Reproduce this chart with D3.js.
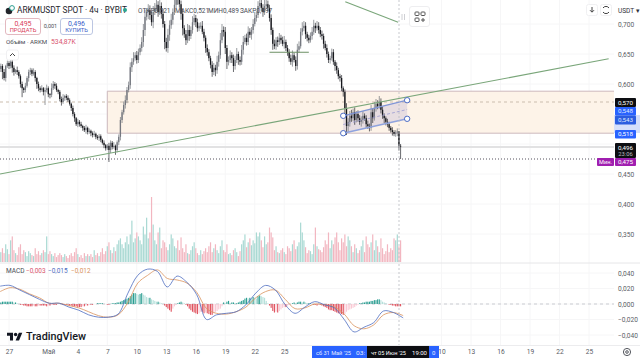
<!DOCTYPE html>
<html><head><meta charset="utf-8">
<script src="https://cdn.jsdelivr.net/npm/d3@7"></script>
<style>html,body{margin:0;padding:0;background:#fff}svg{display:block}text{font-family:Roboto,"Noto Sans",sans-serif}</style>
</head><body><svg id="c" width="640" height="360"></svg>
<script>
// ---- data ----
const closes=[.630,.620,.610,.630,.635,.630,.637,.627,.620,.623,.620,.613,.600,.593,.590,.597,.610,.620,.623,.617,.620,.610,.600,.593,.590,.593,.587,.590,.593,.583,.582,.593,.600,.597,.590,.587,.575,.570,.577,.580,.577,.573,.567,.560,.550,.543,.533,.537,.533,.530,.527,.523,.527,.520,.522,.518,.515,.517,.512,.510,.513,.507,.502,.498,.493,.497,.490,.502,.495,.497,.490,.503,.512,.540,.553,.565,.573,.590,.598,.628,.637,.643,.648,.640,.653,.660,.670,.690,.712,.720,.723,.715,.703,.720,.727,.732,.720,.730,.717,.700,.670,.660,.682,.698,.707,.720,.732,.743,.740,.733,.717,.693,.683,.673,.690,.680,.690,.703,.710,.703,.693,.697,.697,.687,.677,.660,.653,.643,.632,.620,.627,.623,.637,.648,.673,.690,.687,.660,.637,.640,.648,.643,.630,.640,.650,.640,.637,.657,.670,.677,.670,.687,.682,.690,.700,.710,.715,.730,.735,.727,.720,.730,.733,.727,.710,.690,.667,.663,.673,.670,.677,.673,.667,.670,.660,.653,.643,.637,.648,.640,.630,.657,.663,.687,.693,.697,.683,.677,.673,.680,.687,.697,.693,.697,.690,.683,.680,.667,.660,.650,.640,.643,.653,.637,.630,.623,.613,.610,.593,.587,.560,.530,.537,.547,.543,.553,.540,.550,.543,.537,.540,.547,.543,.533,.530,.527,.553,.543,.560,.567,.563,.570,.557,.547,.543,.537,.533,.527,.523,.520,.517,.519,.521,.497,.496];
const firstOpen=.625;
const wickUp=[4,3,5,2,4,3,5,3,4,2,6,3,3,4,2,5,3,4,4,3,6,3,2,4,3,5,2,4,6,3,2,8,5,3,4,2,3,4,6,2,3,4,3,2,4,3,2,5,3,4,2,3,5,2,4,2,3,5,2,3,4,3,2,4,2,3,5,4,3,6,2,3,4,5,4,6,8,5,6,8,6,10,5,7,6,6,8,10,12,6,10,8,6,10,8,12,6,10,6,8,5,7,10,8,10,6,12,15,8,10,6,8,5,7,10,8,6,10,7,5,6,5,6,8,5,4,6,5,4,6,8,5,10,6,12,10,6,8,5,6,8,5,6,7,10,4,6,8,10,5,7,9,6,5,8,10,6,8,10,8,6,12,10,6,5,6,4,7,5,6,8,5,6,10,4,5,5,6,8,4,6,10,8,6,10,8,6,4,5,6,8,10,5,8,6,5,6,4,5,6,4,4,6,5,3,6,4,4,5,3,4,8,6,8,10,6,8,5,6,5,6,8,4,5,6,4,12,6,10,8,6,10,6,5,4,3,5,4,3,5,3,4,5,0,3];
const wickDown=[5,12,4,6,3,5,4,8,6,3,5,4,6,15,5,4,3,6,5,4,3,6,8,5,4,3,6,22,4,5,6,4,3,5,3,4,4,6,3,5,4,3,3,5,4,6,3,5,4,3,5,3,6,4,3,5,4,3,4,3,5,4,3,5,4,3,20,5,4,3,8,4,5,6,5,4,6,5,4,6,8,5,4,6,5,5,6,8,10,6,12,8,6,10,5,6,8,5,8,6,12,6,8,10,6,8,5,6,8,6,10,12,6,8,5,8,5,6,5,8,6,5,5,4,6,8,6,5,6,8,5,10,6,8,6,5,8,10,12,6,5,8,10,6,5,8,6,5,8,4,6,5,5,8,6,4,6,5,4,6,8,5,4,6,6,8,10,5,6,8,5,6,4,8,5,6,6,5,8,4,8,6,5,4,6,5,8,6,5,4,6,5,8,4,6,5,6,8,4,6,5,6,4,5,8,6,5,6,5,8,10,15,10,8,6,5,8,4,6,5,8,6,4,6,5,6,5,8,4,6,5,4,6,5,8,6,5,5,4,6,4,5,6,8,21];
const volumes=[10,14,9,18,13,8,22,26,12,9,7,15,18,8,12,10,6,11,9,7,6,14,8,11,7,9,12,10,26,8,11,8,6,9,5,7,9,7,5,8,6,4,7,9,6,10,14,8,5,7,4,9,6,8,6,8,5,12,7,9,6,10,14,8,11,16,20,12,9,15,11,18,22,24,18,14,20,26,18,28,42,20,24,30,26,22,18,36,28,45,24,30,66,38,22,18,30,35,14,22,20,15,12,18,28,24,16,14,22,12,25,14,10,18,9,8,12,16,20,14,9,7,12,8,11,14,10,16,20,10,14,18,12,9,16,22,12,10,18,8,9,7,12,14,10,6,11,18,22,28,15,20,24,17,22,19,30,26,30,22,15,26,18,20,35,30,25,12,16,10,9,12,14,10,8,16,14,11,18,22,13,16,20,40,30,22,15,9,12,11,8,18,35,16,13,12,10,15,22,18,30,14,22,18,25,30,20,12,24,20,28,16,26,22,16,10,18,14,9,12,16,22,10,26,18,15,20,28,12,22,16,10,24,14,8,11,18,10,14,12,24,22,28,16,22];
const macdHist=[2,3,3,3,3,3,3,3,2,2,1,0,-1,-1,-2,-2,-3,-3,-3,-3,-2,-3,-3,-2,-2,-2,-2,-2,-3,-2,-2,-1,-1,-1,-1,0,0,0,-1,-1,-1,-1,-2,-2,-3,-3,-3,-4,-4,-4,-3,-3,-2,-2,-1,-1,-1,0,0,1,1,1,1,0,0,-1,-1,0,1,1,1,2,2,3,4,5,6,7,8,10,12,14,14,13,12,13,14,12,11,9,8,8,6,5,4,3,3,2,1,0,-2,-4,-6,-8,-10,-6,-3,-1,1,2,3,2,1,-1,-3,-6,-8,-10,-11,-12,-13,-12,-10,-10,-12,-11,-12,-13,-14,-14,-12,-10,-9,-7,-6,-3,2,1,3,4,1,2,2,1,1,2,3,4,5,7,8,7,8,7,9,8,7,10,11,10,9,8,4,1,-2,-5,-9,-11,-10,-11,-9,-7,-5,-4,-4,-2,-1,0,1,2,1,2,3,3,2,3,2,1,1,1,0,-1,-1,-2,-1,-1,-2,-3,-4,-5,-7,-8,-8,-9,-10,-11,-12,-12,-13,-14,-13,-10,-8,-7,-6,-5,-4,-2,-1,1,1,2,2,3,3,3,4,4,5,5,6,6,5,3,2,1,0,-1,-1,-2,-2,-3,-3,-3,-3];
const macdLine=[.023,.024,.018,.012,.006,.001,.001,-.004,-.008,-.014,-.017,-.017,-.013,.014,.037,.045,.042,.022,.036,.028,.012,-.020,-.014,-.012,-.010,-.001,.014,.024,.018,-.001,-.012,-.004,.003,-.001,-.005,-.020,-.036,-.030,-.024,-.009,-.011,-.018];
const signalLine=[.016,.021,.019,.013,.008,.001,.001,-.002,-.005,-.010,-.015,-.017,-.014,.002,.027,.037,.044,.033,.031,.027,.015,-.006,-.012,-.013,-.010,-.004,.008,.016,.018,.006,-.006,-.005,0,-.001,-.004,-.013,-.028,-.032,-.027,-.014,-.011,-.015];
const priceGrid=[.700,.650,.600,.550,.500,.450,.400,.350];
const priceTicks=[.700,.650,.600,.450,.400,.350];
const macdTicks=[.040,.020,0,-.020,-.040];
const timeDates=["2025-04-27","2025-05-01","2025-05-04","2025-05-07","2025-05-10","2025-05-13","2025-05-16","2025-05-19","2025-05-22","2025-05-25","2025-06-10","2025-06-13","2025-06-16","2025-06-19","2025-06-22","2025-06-25"];
const timeLabels=["27","Май","4","7","10","13","16","19","22","25","10","13","16","19","22","25"];
const trendMain=[{t:"2025-04-26T02:00Z",p:.450},{t:"2025-06-27T00:00Z",p:.642}];
const trendDown=[{t:"2025-05-31T05:00Z",p:.737},{t:"2025-06-05T14:00Z",p:.703}];
const levelGreen=[{t:"2025-05-23T12:00Z",p:.653},{t:"2025-05-27T12:00Z",p:.653}];
const channelTop=[{t:"2025-05-31T00:00Z",p:.547},{t:"2025-06-06T12:00Z",p:.573}];
const channelBot=[{t:"2025-05-31T00:00Z",p:.518},{t:"2025-06-06T12:00Z",p:.542}];
const priceBand=[.588,.518];
const bandStart="2025-05-07";
const lastPrice=.496, minPrice=.475, linePrice=.570;

// ---- scales ----
const svg=d3.select("#c");
const W=640,H=360,PR=614;
const T=s=>new Date(s.length<=10?s+"T00:00Z":s);
const x=d3.scaleUtc().domain([T("2025-04-27"),T("2025-06-25")]).range([9,589]);
const y=d3.scaleLinear().domain([.6,.45]).range([84,174]);
const yMacd=d3.scaleLinear().domain([0,.04]).range([304,273]);
const yVol=d3.scaleLinear().domain([0,66]).range([262,197]);
const fmt=d=>d3.format(".3f")(d).replace(".",",").replace("-","−");
const H4=4*3600*1000, t0=+T("2025-04-26T04:00Z");
const candles=closes.map((c,i)=>{const o=i?closes[i-1]:firstOpen;
 return {t:new Date(t0+i*H4),o,c,h:Math.max(o,c)+(wickUp[i]||0)/1000,l:Math.min(o,c)-(wickDown[i]||0)/1000,v:volumes[i]||0,m:(macdHist[i]||0)/1000};});
const UP="#74777f",DN="#16171c";

// ---- grid ----
const gridG=svg.append("g").attr("stroke","#f6f6f7").attr("stroke-width",1);
timeDates.forEach(d=>gridG.append("line").attr("x1",x(T(d))).attr("x2",x(T(d))).attr("y1",0).attr("y2",345));
priceGrid.forEach(p=>gridG.append("line").attr("x1",0).attr("x2",PR).attr("y1",y(p)).attr("y2",y(p)));
macdTicks.forEach(p=>gridG.append("line").attr("x1",0).attr("x2",PR).attr("y1",yMacd(p)).attr("y2",yMacd(p)));

// ---- drawings under the candles ----
const bx=x(T(bandStart));
svg.append("rect").attr("x",bx).attr("y",y(priceBand[0])).attr("width",PR-bx).attr("height",y(priceBand[1])-y(priceBand[0])).attr("fill","#fdf3e8");
priceBand.forEach(p=>svg.append("line").attr("x1",bx).attr("x2",PR).attr("y1",y(p)).attr("y2",y(p)).attr("stroke","#cdb9bd").attr("stroke-width",1));
svg.append("line").attr("x1",bx).attr("x2",bx).attr("y1",y(priceBand[0])).attr("y2",y(priceBand[1])).attr("stroke","#cdb9bd");
svg.append("line").attr("x1",0).attr("x2",PR).attr("y1",y(linePrice)).attr("y2",y(linePrice)).attr("stroke","#cbbdae").attr("stroke-dasharray","3 3");
svg.append("line").attr("x1",0).attr("x2",PR).attr("y1",y(lastPrice)+.5).attr("y2",y(lastPrice)+.5).attr("stroke","#e2e2e3").attr("stroke-width",2);
svg.append("line").attr("x1",0).attr("x2",PR).attr("y1",y(minPrice)).attr("y2",y(minPrice)).attr("stroke","#55505c").attr("stroke-dasharray","1 2");

// channel
const px=d=>[x(T(d.t)),y(d.p)];
const chan=[...channelTop.map(px),...channelBot.slice().reverse().map(px)];
svg.append("polygon").attr("points",chan.join(" ")).attr("fill","#7d6fc0").attr("fill-opacity",.17);

// ---- candles ----
const gC=svg.append("g");
gC.selectAll("line").data(candles).join("line").attr("x1",d=>x(d.t)).attr("x2",d=>x(d.t)).attr("y1",d=>y(d.h)).attr("y2",d=>y(d.l)).attr("stroke",d=>d.c>=d.o?"#6f7279":"#2a2b30").attr("stroke-width",.7);
gC.selectAll("rect").data(candles).join("rect").attr("x",d=>x(d.t)-.65).attr("width",1.3).attr("y",d=>y(Math.max(d.o,d.c))).attr("height",d=>Math.max(.8,Math.abs(y(d.o)-y(d.c)))).attr("fill",d=>d.c>=d.o?UP:DN);

// ---- lines over the candles ----
const ln=(a,c,w,da)=>svg.append("line").attr("x1",px(a[0])[0]).attr("y1",px(a[0])[1]).attr("x2",px(a[1])[0]).attr("y2",px(a[1])[1]).attr("stroke",c).attr("stroke-width",w).attr("stroke-dasharray",da||null);
ln(trendMain,"#7aa67a",1.1);ln(trendDown,"#7aa67a",1.1);ln(levelGreen,"#6b8f63",1.1);
ln(channelTop,"#7f95d6",1.2);ln(channelBot,"#8fa3de",1.6);
ln([{t:channelTop[0].t,p:(channelTop[0].p+channelBot[0].p)/2},{t:channelTop[1].t,p:(channelTop[1].p+channelBot[1].p)/2}],"#9b9bd0",.8,"3 2");
[...channelTop,...channelBot].forEach(d=>svg.append("circle").attr("cx",px(d)[0]).attr("cy",px(d)[1]).attr("r",2.7).attr("fill","#fff").attr("stroke","#4b6bc4").attr("stroke-width",1));

// ---- volume ----
svg.append("g").selectAll("rect").data(candles).join("rect").attr("x",d=>x(d.t)-.6).attr("width",1.2).attr("y",d=>yVol(d.v)).attr("height",d=>yVol(0)-yVol(d.v)).attr("fill",d=>d.c>=d.o?"#a9d9d3":"#f2b6c0");

// ---- pane separators ----
svg.append("line").attr("x1",0).attr("x2",W).attr("y1",263).attr("y2",263).attr("stroke","#e6e6e8");
svg.append("line").attr("x1",0).attr("x2",W).attr("y1",345.5).attr("y2",345.5).attr("stroke","#ececee");

// ---- MACD ----
svg.append("line").attr("x1",0).attr("x2",PR).attr("y1",yMacd(0)).attr("y2",yMacd(0)).attr("stroke","#c9cbd1").attr("stroke-dasharray","3 3");
svg.append("g").selectAll("rect").data(candles).join("rect").attr("x",d=>x(d.t)-.55).attr("width",1.1)
 .attr("y",d=>d.m>0?yMacd(d.m):yMacd(0)).attr("height",d=>Math.abs(yMacd(d.m)-yMacd(0)))
 .attr("fill",(d,i)=>{const p=i?candles[i-1].m:0;return d.m>=0?(d.m>=p?"#2b9e92":"#b5e0da"):(d.m<=p?"#e0535f":"#f9c9d4");});
const lineMacd=d3.line().x((d,i)=>x(new Date(t0+(i*6-.4)*H4))).y(d=>yMacd(d)).curve(d3.curveCatmullRom);
svg.append("path").attr("d",lineMacd(signalLine)).attr("fill","none").attr("stroke","#d9925c").attr("stroke-width",.8);
svg.append("path").attr("d",lineMacd(macdLine)).attr("fill","none").attr("stroke","#4d6cc0").attr("stroke-width",.8);

// crosshair
svg.append("line").attr("x1",399).attr("x2",399).attr("y1",0).attr("y2",345).attr("stroke","#b9bbc2").attr("stroke-dasharray","2 2").attr("stroke-width",.8);

// ---- axes ----
function styleAxis(g){g.select(".domain").remove();g.selectAll("line").remove();g.selectAll("text").attr("fill","#5a5d66").attr("font-size",6.6);}
svg.append("g").attr("transform","translate(614,0)").call(d3.axisRight(y).tickValues(priceTicks).tickFormat(fmt).tickSize(0).tickPadding(4)).call(styleAxis);
svg.append("g").attr("transform","translate(614,0)").call(d3.axisRight(yMacd).tickValues(macdTicks).tickFormat(fmt).tickSize(0).tickPadding(4)).call(styleAxis);
const labelOf=new Map(timeDates.map((d,i)=>[+T(d),timeLabels[i]]));
svg.append("g").attr("transform","translate(0,346)").call(d3.axisBottom(x).tickValues(timeDates.map(T)).tickFormat(d=>labelOf.get(+d)).tickSize(0).tickPadding(3)).call(styleAxis);

// ---- price labels ----
function tag(xx,yy,w,h,fill,txt,col,size){svg.append("rect").attr("x",xx).attr("y",yy).attr("width",w).attr("height",h).attr("rx",1).attr("fill",fill);
 svg.append("text").attr("x",xx+w/2).attr("y",yy+h/2+2.1).attr("text-anchor","middle").attr("fill",col).attr("font-size",size||6.2).text(txt);}
svg.append("rect").attr("x",614).attr("y",115).attr("width",26).attr("height",18).attr("fill","#d5dffb");
tag(615,98,21,9,"#0d0e12",fmt(.570),"#fff");
tag(615,107,21,8.5,"#2962ff",fmt(.548),"#dfe7ff");
tag(615,115.5,21,9,"#2b5ce0",fmt(.543),"#dfe7ff");
tag(615,130,21,8.5,"#2962ff",fmt(.518),"#fff");
svg.append("rect").attr("x",615).attr("y",143).attr("width",21).attr("height",15).attr("rx",1).attr("fill","#0d0e12");
svg.append("text").attr("x",625.5).attr("y",149.6).attr("text-anchor","middle").attr("fill","#fff").attr("font-size",6.2).text(fmt(lastPrice));
svg.append("text").attr("x",625.5).attr("y",156.3).attr("text-anchor","middle").attr("fill","#bdbdbd").attr("font-size",5.8).text("23:06");
tag(597,158,17,8,"#a01fb0","Мин.","#fff",5.6);
tag(615,158,21,8,"#a01fb0",fmt(minPrice),"#fff");

// time-axis highlight
svg.append("rect").attr("x",312).attr("y",346).attr("width",127).attr("height",12).attr("fill","#2962ff");
svg.append("rect").attr("x",367).attr("y",346).attr("width",62).attr("height",12).attr("fill","#0d0e12");
const fit=(xx,s,c,w)=>{const t=svg.append("text").attr("x",xx).attr("y",354.5).attr("fill",c).attr("font-size",6).text(s);if(w)t.attr("textLength",w).attr("lengthAdjust","spacingAndGlyphs");};
fit(316,"сб 31 Май '25","#e6ecff",35);
fit(356,"03:","#e6ecff",9);
fit(371,"чт 05 Июн '25","#fff",35);
fit(412,"19:00","#fff",15);
fit(432,"0","#e6ecff");

// ---- legend ----
const txt=(xx,yy,s,c,sz,w)=>svg.append("text").attr("x",xx).attr("y",yy).attr("fill",c).attr("font-size",sz).attr("font-weight",w||400).text(s);
svg.append("circle").attr("cx",9).attr("cy",11).attr("r",3.3).attr("fill","#23252b");
svg.append("circle").attr("cx",12).attr("cy",8).attr("r",2.4).attr("fill","#fff").attr("stroke","#2a9d8f");
txt(17,13,"ARKMUSDT SPOT · 4ч · BYBIT","#24262c",8.3);
svg.append("circle").attr("cx",125).attr("cy",10).attr("r",2).attr("fill","#2aa58f");
txt(138,13,"ОТКР0,521","#4a4d55",6.5);txt(175,13,"МАКС0,521","#4a4d55",6.5);txt(208,13,"МИН0,489","#4a4d55",6.5);txt(240,13,"ЗАКР0,497","#4a4d55",6.5);
svg.append("rect").attr("x",5.5).attr("y",18.5).attr("width",35).attr("height",16).attr("rx",2.5).attr("fill","#fff").attr("stroke","#e3b9c0");
svg.append("rect").attr("x",60.5).attr("y",18.5).attr("width",32).attr("height",16).attr("rx",2.5).attr("fill","#fff").attr("stroke","#bcc6e2");
const mid=(xx,yy,s,c,sz)=>svg.append("text").attr("x",xx).attr("y",yy).attr("text-anchor","middle").attr("fill",c).attr("font-size",sz).text(s);
mid(23,25.5,"0,495","#d9405a",7);mid(23,32,"ПРОДАТЬ","#d9405a",5.8);
mid(76.5,25.5,"0,496","#3e62c9",7);mid(76.5,32,"КУПИТЬ","#3e62c9",5.8);
mid(50.5,28,"0,001","#4a4d55",5.5);
txt(6,44,"Объём · ARKM","#4a4d55",6.2);txt(51,44,"534,87K","#d9566f",6.8);
svg.append("rect").attr("x",6.5).attr("y",50).attr("width",12).attr("height",10).attr("rx",2).attr("fill","#fff").attr("stroke","#f0f0f2");
svg.append("path").attr("d","M10 56l2.5-2.5 2.5 2.5").attr("fill","none").attr("stroke","#444");
txt(6,273,"MACD","#4a4d55",6.5);txt(26,273,"−0,003","#d9566f",6.5);txt(48,273,"−0,015","#4d6cc0",6.5);txt(71,273,"−0,012","#d9925c",6.5);

// top-right controls
svg.append("rect").attr("x",409.5).attr("y",6.5).attr("width",20).attr("height",20).attr("rx",2.5).attr("fill","#fff").attr("stroke","#eeeef0");
[[415,12],[421,12],[415,18]].forEach(p=>svg.append("rect").attr("x",p[0]).attr("y",p[1]).attr("width",4).attr("height",3.5).attr("rx",.8).attr("fill","none").attr("stroke","#555"));
svg.append("path").attr("d","M423 18v4M421 20h4").attr("stroke","#555").attr("fill","none");
svg.append("path").attr("d","M402 14v6M404.5 14v6").attr("stroke","#cfd0d4").attr("fill","none");
svg.append("rect").attr("x",586.5).attr("y",4.5).attr("width",11).attr("height",11).attr("rx",2).attr("fill","#fff").attr("stroke","#f0f0f2");
svg.append("path").attr("d","M592 7v5M590 10.2l2 2 2-2").attr("fill","none").attr("stroke","#444");
svg.append("rect").attr("x",600.5).attr("y",4.5).attr("width",11).attr("height",11).attr("rx",2).attr("fill","#fff").attr("stroke","#f0f0f2");
svg.append("path").attr("d","M603 8a3.4 3 0 0 1 6 0M609 12a3.4 3 0 0 1-6 0").attr("fill","none").attr("stroke","#444");
txt(618,13,"USDT ▾","#30323a",6.5);

// TradingView mark
const lg=svg.append("g").attr("transform","translate(7,331) scale(.43)");
lg.append("path").attr("d","M14 22H7V11H0V4h14v18zM28 22h-8l7.5-18h8L28 22z").attr("fill","#131722");
lg.append("circle").attr("cx",20).attr("cy",8).attr("r",4).attr("fill","#131722");
txt(26,340,"TradingView","#131722",10.8,500);

// settings icon
svg.append("circle").attr("cx",627).attr("cy",352).attr("r",3.6).attr("fill","none").attr("stroke","#55585f");
svg.append("circle").attr("cx",627).attr("cy",352).attr("r",1.3).attr("fill","none").attr("stroke","#55585f");
</script></body></html>
